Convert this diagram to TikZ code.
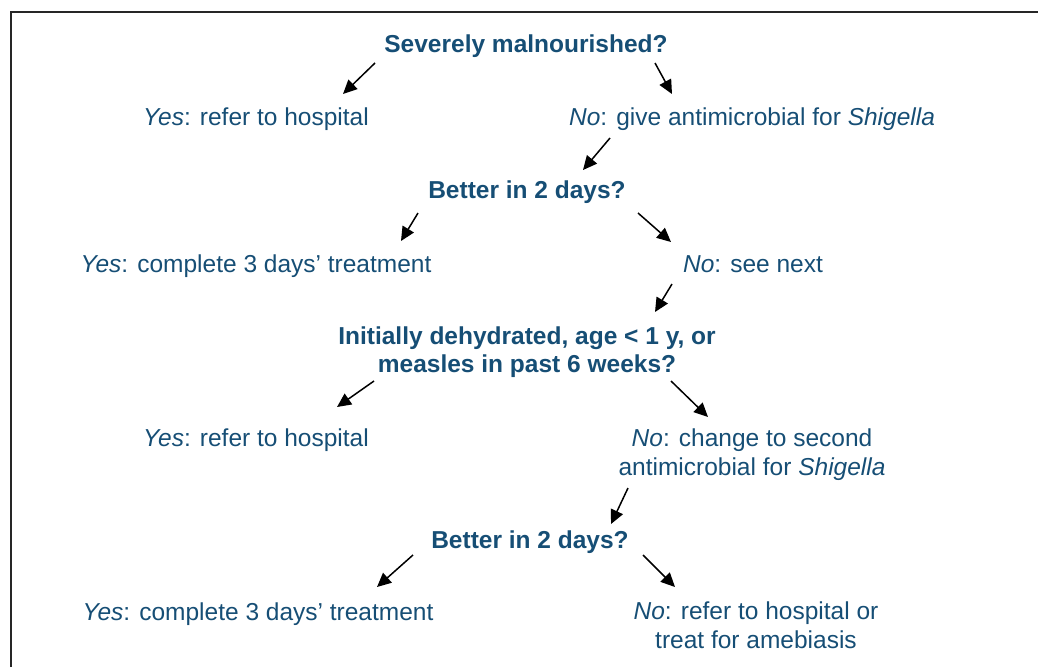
\documentclass[tikz,border=0pt]{standalone}
\usepackage{fontspec}
\setmainfont{Liberation Sans}
\usetikzlibrary{arrows.meta}
\definecolor{txtblue}{RGB}{22,78,117}
\begin{document}
\begin{tikzpicture}[x=1pt,y=-1pt,
  lbl/.style={anchor=base, inner sep=0pt, text=txtblue, align=center,
    font=\fontsize{24.5}{29}\selectfont},
  qst/.style={lbl, font=\fontsize{24.5}{27.5}\selectfont\bfseries},
  arr/.style={line width=1.5pt, -{Triangle[length=14pt,width=13pt]}},
  frame/.style={line width=1.8pt, black!85}]
\useasboundingbox (0,0) rectangle (1038,667);
\draw[frame] (11,667) -- (11,12) -- (1038,12);

\node[qst] (q1) at (526,52) {Severely malnourished?};
\node[lbl] (y1) at (256,125) {\textit{Yes}: refer to hospital};
\node[lbl] (n1) at (752,125) {\textit{No}: give antimicrobial for \textit{Shigella}};
\node[qst] (q2) at (527,198) {Better in 2 days?};
\node[lbl] (y2) at (256,272) {\textit{Yes}: complete 3 days’ treatment};
\node[lbl] (n2) at (753,272) {\textit{No}: see next};
\node[qst] (q3) at (527,372) {Initially dehydrated, age < 1 y, or\\measles in past 6 weeks?};
\node[lbl] (y3) at (256,446) {\textit{Yes}: refer to hospital};
\node[lbl] (n3) at (752,475) {\textit{No}: change to second\\antimicrobial for \textit{Shigella}};
\node[qst] (q4) at (530,548) {Better in 2 days?};
\node[lbl] (y4) at (258,620) {\textit{Yes}: complete 3 days’ treatment};
\node[lbl] (n4) at (756,648) {\textit{No}: refer to hospital or\\treat for amebiasis};

\coordinate (a1s) at (375,63);  \coordinate (a1e) at (343,94);
\coordinate (a2s) at (655,63);  \coordinate (a2e) at (672,94);
\coordinate (a3s) at (610,138); \coordinate (a3e) at (583,170);
\coordinate (a4s) at (418,213); \coordinate (a4e) at (401,241);
\coordinate (a5s) at (638,213); \coordinate (a5e) at (671,242);
\coordinate (a6s) at (672,284); \coordinate (a6e) at (655,312);
\coordinate (a7s) at (374,381); \coordinate (a7e) at (337,407);
\coordinate (a8s) at (671,381); \coordinate (a8e) at (708,417);
\coordinate (a9s) at (628,488); \coordinate (a9e) at (611,524);
\coordinate (a10s) at (413,555); \coordinate (a10e) at (377,587);
\coordinate (a11s) at (643,555); \coordinate (a11e) at (675,587);

\foreach \i in {1,...,11} {\draw[arr] (a\i s) -- (a\i e);}
\end{tikzpicture}
\end{document}
